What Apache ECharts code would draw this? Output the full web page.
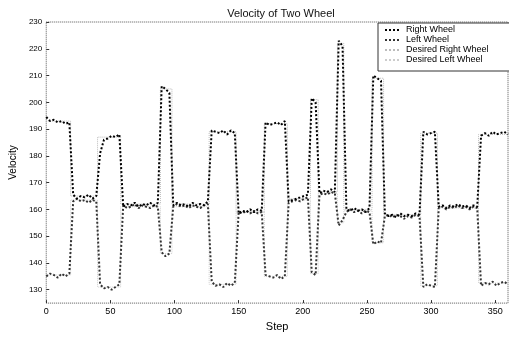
<!DOCTYPE html>
<html>
<head>
<meta charset="utf-8">
<script src="https://cdn.jsdelivr.net/npm/echarts@6/dist/echarts.min.js"></script>
<style>
  html, body { margin: 0; padding: 0; background: #fff; }
  #chart { width: 509px; height: 337px; }
</style>
</head>
<body>
<div id="chart"></div>
<script>
// sampled every 3 steps, 0..360
var stepSize = 3;
var rightWheel = [
  194.5, 193, 193.5, 192.5, 193, 192, 192.5,
  165.5, 164, 165, 164.5, 165.5, 164, 165,
  181, 186, 186.5, 187.5, 187, 188,
  161, 162, 161.5, 162.5, 161, 162, 161.5, 162.5, 161.5, 162.5,
  206, 205, 203.5,
  161.5, 162.5, 161.5, 162, 161, 162.5, 161.5, 162, 161.5, 163,
  189.5, 189, 188.5, 189.5, 188, 189.5, 188.5,
  158.5, 159.5, 159, 160, 159, 160, 159.5,
  192.5, 191.5, 192, 192.5, 191.5, 193,
  163, 163.5, 164, 164.5, 165, 165.5,
  201.5, 200,
  166, 167, 166.5, 167.5, 166.5,
  223, 221,
  160, 159.5, 160.5, 159.5, 160, 159, 160.5,
  210, 209, 208,
  158.5, 157.5, 158, 157, 158.5, 157.5, 158, 157.5, 158.5, 158,
  189, 188, 188.5, 189,
  161, 161.5, 160.5, 161.5, 161, 162, 161, 161.5, 160.5, 161.5, 161,
  187.5, 188.5, 187.5, 189, 188, 188.5, 189, 188
];
var leftWheel = [
  135, 136, 135.5, 134.5, 136, 135, 136,
  163, 164, 163, 163.5, 162.5, 163.5, 163,
  132, 130.5, 131, 130, 131, 132,
  161.5, 160.5, 161, 162, 160.5, 161.5, 161, 160.5, 161.5, 161,
  144, 142.5, 143.5,
  161, 162, 161, 161.5, 160.5, 161.5, 161, 160.5, 161.5, 162,
  133, 131.5, 132, 131, 132.5, 131.5, 132.5,
  159, 158.5, 159.5, 158.5, 159.5, 158.5, 159,
  135.5, 135, 134.5, 135.5, 134, 135,
  162.5, 163, 163.5, 163, 164, 164.5,
  136.5, 135.5,
  165.5, 166, 165.5, 166.5, 166,
  154, 156,
  159, 160, 159, 159.5, 158.5, 159.5, 159,
  147, 148, 147.5,
  157.5, 158, 157, 158, 157.5, 156.5, 157.5, 157, 158, 157.5,
  131, 132, 131.5, 131,
  160.5, 161, 160, 161, 160.5, 161.5, 160.5, 161, 160, 161, 160.5,
  131.5, 132.5, 132, 133, 131.5, 132.5, 133, 132
];

// desired set points (step functions)
var segStart = [0, 19, 40, 58, 89, 98, 127, 148, 170, 188, 206, 212, 227, 232, 254, 263, 292, 305, 337];
var desiredRight = [193, 165, 187, 162, 205, 162, 189, 159, 192, 164, 201, 166.5, 222, 160, 209, 158, 188.5, 161, 188];
var desiredLeft = [135.5, 163.5, 131, 161, 143.5, 161, 132, 159, 135, 163.5, 136, 166, 155, 159.5, 147.5, 157.5, 131.5, 160.5, 132.5];
var lastStep = 360;

var xTicks = [0, 50, 100, 150, 200, 250, 300, 350];
var yTicks = [130, 140, 150, 160, 170, 180, 190, 200, 210, 220, 230];

var font = 'Liberation Sans, Arial, sans-serif';

function sampled(vals) {
  return vals.map(function (v, i) { return [i * stepSize, v]; });
}
function stepped(vals) {
  var pts = segStart.map(function (s, i) { return [s, vals[i]]; });
  pts.push([lastStep, vals[vals.length - 1]]);
  return pts;
}

var chart = echarts.init(document.getElementById('chart'), null, { renderer: 'canvas' });
chart.setOption({
  animation: false,
  backgroundColor: '#fff',
  title: {
    text: 'Velocity of Two Wheel',
    left: 276, top: 3, textAlign: 'center',
    textStyle: { fontFamily: font, fontSize: 11, fontWeight: 'normal', color: '#111' }
  },
  legend: {
    orient: 'vertical',
    left: 378, top: 23,
    padding: [2, 60, 6, 6],
    itemGap: 0,
    itemWidth: 16,
    itemHeight: 8,
    borderColor: '#333',
    borderWidth: 1,
    backgroundColor: '#fff',
    itemStyle: { color: 'transparent', borderColor: 'transparent', borderWidth: 0 },
    textStyle: { fontFamily: font, fontSize: 9, lineHeight: 10, color: '#000' },
    data: ['Right Wheel', 'Left Wheel', 'Desired Right Wheel', 'Desired Left Wheel']
  },
  grid: {
    left: 38, right: 1, top: 22, bottom: 23,
    show: true, borderColor: '#555', borderWidth: 1, borderType: 'dotted'
  },
  xAxis: {
    type: 'value', min: 0, max: lastStep,
    name: 'Step', nameLocation: 'middle', nameGap: 13,
    nameTextStyle: { fontFamily: font, fontSize: 11, color: '#000' },
    axisLine: { show: false },
    axisTick: { show: true, customValues: xTicks, length: 3, inside: true, lineStyle: { color: '#333' } },
    axisLabel: { customValues: xTicks, fontFamily: font, fontSize: 9, color: '#000', margin: 4 },
    splitLine: { show: false }
  },
  yAxis: {
    type: 'value', min: 125, max: 230,
    name: 'Velocity', nameLocation: 'middle', nameGap: 24,
    nameTextStyle: { fontFamily: font, fontSize: 10, color: '#000' },
    axisLine: { show: false },
    axisTick: { show: true, customValues: yTicks, length: 3, inside: true, lineStyle: { color: '#333' } },
    axisLabel: { customValues: yTicks, fontFamily: font, fontSize: 8, color: '#000', margin: 4 },
    splitLine: { show: false }
  },
  series: [
    {
      name: 'Desired Right Wheel', type: 'line', step: 'end', symbol: 'none', z: 1,
      data: stepped(desiredRight),
      lineStyle: { color: '#bbb', width: 1, type: 'dotted' },
      itemStyle: { color: '#bbb' }
    },
    {
      name: 'Desired Left Wheel', type: 'line', step: 'end', symbol: 'none', z: 1,
      data: stepped(desiredLeft),
      lineStyle: { color: '#ccc', width: 1, type: 'dotted' },
      itemStyle: { color: '#ccc' }
    },
    {
      name: 'Right Wheel', type: 'line', symbol: 'none', z: 3,
      data: sampled(rightWheel),
      lineStyle: { color: '#000', width: 2, type: 'dotted' },
      itemStyle: { color: '#000' }
    },
    {
      name: 'Left Wheel', type: 'line', symbol: 'none', z: 2,
      data: sampled(leftWheel),
      lineStyle: { color: '#333', width: 2, type: 'dotted' },
      itemStyle: { color: '#333' }
    }
  ]
});
</script>
</body>
</html>
